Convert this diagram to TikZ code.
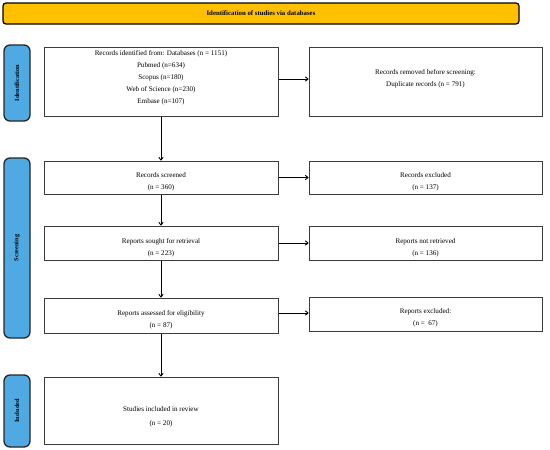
\documentclass[tikz,border=0pt]{standalone}
\usepackage{fontspec}
\setmainfont{Liberation Serif}
\usetikzlibrary{arrows.meta}
\definecolor{banner}{RGB}{255,192,0}
\definecolor{phase}{RGB}{79,170,228}
\definecolor{boxline}{RGB}{60,60,60}
\begin{document}
\begin{tikzpicture}[x=1pt,y=-1pt,
  txt/.style={font=\fontsize{7.1}{12}\selectfont, align=center},
  flowbox/.style={draw=boxline, line width=1pt, fill=white, inner sep=0pt},
  phasebox/.style={draw=black!85, line width=1.3pt, fill=phase, rounded corners=6pt, inner sep=0pt},
  phasetxt/.style={rotate=90, font=\fontsize{6.3}{7}\selectfont\bfseries},
  arr/.style={-{To[length=3.5pt,width=5pt]}, line width=0.9pt, black}]
\useasboundingbox (0,0) rectangle (550,450);
% banner
\node[draw=black, line width=1.3pt, fill=banner, rounded corners=3pt, minimum width=516pt, minimum height=21pt, inner sep=0pt, font=\fontsize{6.8}{8}\selectfont\bfseries] (banner) at (261,13.5) {Identification of studies via databases};
% phase labels
\node[phasebox, minimum width=26pt, minimum height=76pt] (pid) at (17,83) {};
\node[phasetxt] (pidt) at (pid.center) {Identification};
\node[phasebox, minimum width=26pt, minimum height=180pt] (psc) at (17,248) {};
\node[phasetxt] (psct) at (psc.center) {Screening};
\node[phasebox, minimum width=26pt, minimum height=72pt] (pin) at (17,411) {};
\node[phasetxt] (pint) at (pin.center) {Included};
% left column
\node[flowbox, minimum width=234pt, minimum height=69pt] (b1) at (161,81.5) {};
\node[txt] (b1t) at (161,77.5) {Records identified from: Databases (n = 1151)\\Pubmed (n=634)\\Scopus (n=180)\\Web of Science (n=230)\\Embase (n=107)};
\node[flowbox, minimum width=234pt, minimum height=33pt] (b2) at (161,177.5) {};
\node[txt] (b2t) at (161,182) {Records screened\\(n = 360)};
\node[flowbox, minimum width=234pt, minimum height=34pt] (b3) at (161,243) {};
\node[txt] (b3t) at (161,247.5) {Reports sought for retrieval\\(n = 223)};
\node[flowbox, minimum width=234pt, minimum height=35pt] (b4) at (161,315.5) {};
\node[txt] (b4t) at (161,319.5) {Reports assessed for eligibility\\(n = 87)};
\node[flowbox, minimum width=234pt, minimum height=67pt] (b5) at (161,410.5) {};
\node[txt, font=\fontsize{7.1}{14}\selectfont] (b5t) at (161,417) {Studies included in review\\(n = 20)};
% right column
\node[flowbox, minimum width=233pt, minimum height=69pt] (r1) at (425.5,81.5) {};
\node[txt] (r1t) at (425.5,78.5) {Records removed before screening:\\Duplicate records (n = 791)};
\node[flowbox, minimum width=233pt, minimum height=33pt] (r2) at (425.5,177.5) {};
\node[txt] (r2t) at (425.5,182) {Records excluded\\(n = 137)};
\node[flowbox, minimum width=233pt, minimum height=34pt] (r3) at (425.5,243) {};
\node[txt] (r3t) at (425.5,247.5) {Reports not retrieved\\(n = 136)};
\node[flowbox, minimum width=233pt, minimum height=34pt] (r4) at (425.5,314) {};
\node[txt] (r4t) at (425.5,318) {Reports excluded:\\(n =\ \ 67)};
% arrows
\draw[arr] (b1.south) -- (b2.north);
\draw[arr] (b2.south) -- (b3.north);
\draw[arr] (b3.south) -- (b4.north);
\draw[arr] (b4.south) -- (b5.north);
\draw[arr] (b1.east |- 0,79) -- (r1.west |- 0,79);
\draw[arr] (b2.east) -- (r2.west |- b2.east);
\draw[arr] (b3.east) -- (r3.west |- b3.east);
\draw[arr] (b4.east |- 0,313) -- (r4.west |- 0,313);
\end{tikzpicture}
\end{document}
